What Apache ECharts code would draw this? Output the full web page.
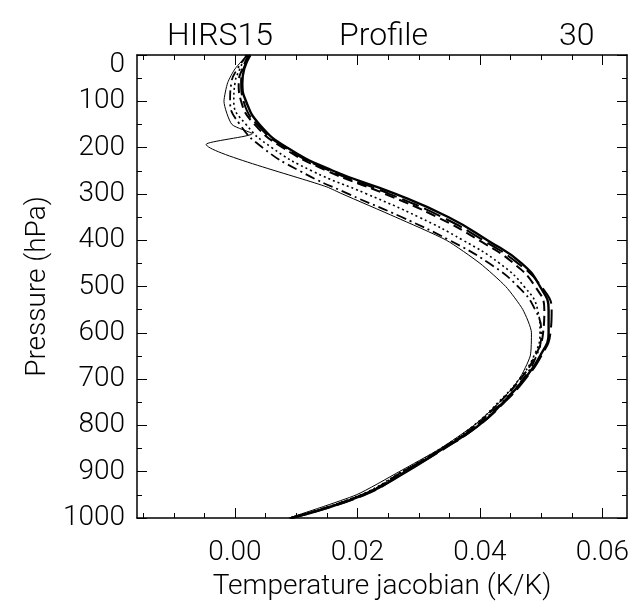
<!DOCTYPE html>
<html>
<head>
<meta charset="utf-8">
<script src="https://cdn.jsdelivr.net/npm/echarts@6/dist/echarts.min.js"></script>
<style>
html,body{margin:0;padding:0;background:#fff;}
#chart{width:637px;height:606px;}
</style>
</head>
<body>
<div id="chart"></div>
<script>
// Pressure levels (hPa)
const pressure = [0, 30, 60, 100, 150, 200, 250, 300, 350, 400, 450, 500, 550, 600, 650, 700, 750, 800, 850, 900, 950, 1000];
// Jacobian profiles (K/K)
const jacA = [0.0025, 0.0015, 0.0012, 0.0018, 0.0040, 0.0085, 0.0160, 0.0262, 0.0348, 0.0412, 0.0468, 0.0498, 0.0512, 0.0512, 0.0498, 0.0472, 0.0438, 0.0398, 0.0340, 0.0280, 0.0210, 0.0092];
const jacC = [0.0022, 0.0012, 0.0006, 0.0010, 0.0032, 0.0078, 0.0150, 0.0245, 0.0330, 0.0398, 0.0455, 0.0490, 0.0505, 0.0503, 0.0490, 0.0466, 0.0432, 0.0393, 0.0338, 0.0274, 0.0208, 0.0090];
const jacD = [0.0018, 0.0008, 0.0000, -0.0002, 0.0018, 0.0060, 0.0125, 0.0215, 0.0300, 0.0372, 0.0432, 0.0472, 0.0494, 0.0498, 0.0488, 0.0464, 0.0430, 0.0390, 0.0336, 0.0272, 0.0205, 0.0089];
const jacE = [0.0020, 0.0004, -0.0006, -0.0008, 0.0008, 0.0045, 0.0105, 0.0185, 0.0272, 0.0350, 0.0415, 0.0462, 0.0490, 0.0500, 0.0492, 0.0470, 0.0436, 0.0394, 0.0338, 0.0274, 0.0207, 0.0090];
const jacF = [0.0024, 0.0014, 0.0010, 0.0014, 0.0036, 0.0082, 0.0155, 0.0252, 0.0338, 0.0405, 0.0462, 0.0500, 0.0517, 0.0515, 0.0500, 0.0474, 0.0440, 0.0398, 0.0342, 0.0278, 0.0212, 0.0091];
// Profile with spike near 190 hPa (own levels)
const pressureB = [0, 30, 60, 100, 150, 170, 193, 285, 300, 350, 400, 450, 500, 550, 600, 650, 700, 750, 800, 850, 900, 950, 1000];
const jacB = [0.0020, 0.0000, -0.0012, -0.0018, -0.0005, 0.0028, -0.0047, 0.0150, 0.0175, 0.0262, 0.0345, 0.0400, 0.0442, 0.0470, 0.0484, 0.0482, 0.0464, 0.0432, 0.0390, 0.0335, 0.0268, 0.0198, 0.0088];

const xMajor = [0, 0.02, 0.04, 0.06];
const xMinor = [-0.015, -0.01, -0.005, 0.005, 0.01, 0.015, 0.025, 0.03, 0.035, 0.045, 0.05, 0.055];

const FONT = 'Roboto, "DejaVu Sans", sans-serif';
const FW = 300;
const pair = (xs, ps) => xs.map((x, i) => [x, ps[i]]);

const chart = echarts.init(document.getElementById('chart'), null, {renderer: 'canvas'});
const black = '#000';
const xBase = {
  type: 'value', min: -0.016, max: 0.064, gridIndex: 0,
  splitLine: {show: false}
};
const tStyle = {fontFamily: FONT, fontSize: 32, fontWeight: FW, color: black};
const option = {
  backgroundColor: '#fff',
  animation: false,
  title: [
    {text: 'HIRS15', left: 162, top: 16, textStyle: tStyle},
    {text: 'Profile', left: 334, top: 16, textStyle: tStyle},
    {text: '30', left: 554, top: 16, textStyle: tStyle}
  ],
  grid: {left: 137, right: 10, top: 55, bottom: 84},
  xAxis: [
    Object.assign({}, xBase, {
      position: 'bottom',
      axisLine: {show: true, onZero: false, lineStyle: {color: black, width: 1.5}},
      axisTick: {show: true, inside: true, length: 10, customValues: xMajor, lineStyle: {color: black}},
      axisLabel: {show: true, customValues: xMajor, margin: 21, fontFamily: FONT, fontSize: 28, fontWeight: FW, color: black,
        formatter: v => v.toFixed(2)},
      name: 'Temperature jacobian (K/K)', nameLocation: 'middle', nameGap: 55,
      nameTextStyle: {fontFamily: FONT, fontSize: 28, fontWeight: FW, color: black}
    }),
    Object.assign({}, xBase, {
      position: 'bottom',
      axisLine: {show: false, onZero: false},
      axisTick: {show: true, inside: true, length: 5, customValues: xMinor, lineStyle: {color: black}},
      axisLabel: {show: false}
    }),
    Object.assign({}, xBase, {
      position: 'top',
      axisLine: {show: true, onZero: false, lineStyle: {color: black, width: 1.5}},
      axisTick: {show: true, inside: true, length: 10, customValues: xMajor, lineStyle: {color: black}},
      axisLabel: {show: false}
    }),
    Object.assign({}, xBase, {
      position: 'top',
      axisLine: {show: false, onZero: false},
      axisTick: {show: true, inside: true, length: 5, customValues: xMinor, lineStyle: {color: black}},
      axisLabel: {show: false}
    })
  ],
  yAxis: [
    {
      type: 'value', min: 0, max: 1000, interval: 100, inverse: true, position: 'left',
      axisLine: {show: true, onZero: false, lineStyle: {color: black, width: 1.5}},
      axisTick: {show: true, inside: true, length: 10, lineStyle: {color: black}},
      minorTick: {show: true, splitNumber: 2, length: 5, lineStyle: {color: black}},
      splitLine: {show: false},
      axisLabel: {margin: 12, fontFamily: FONT, fontSize: 28, fontWeight: FW, color: black,
        formatter: v => v === 0 ? '{z|0}' : String(v),
        rich: {z: {fontFamily: FONT, fontSize: 28, fontWeight: FW, color: black, padding: [20, 0, 0, 0]}}},
      name: 'Pressure (hPa)', nameLocation: 'middle', nameGap: 84, nameRotate: 90,
      nameTextStyle: {fontFamily: FONT, fontSize: 28, fontWeight: FW, color: black}
    },
    {
      type: 'value', min: 0, max: 1000, interval: 100, inverse: true, position: 'right',
      axisLine: {show: true, onZero: false, lineStyle: {color: black, width: 1.5}},
      axisTick: {show: true, inside: true, length: 10, lineStyle: {color: black}},
      minorTick: {show: true, splitNumber: 2, length: 5, lineStyle: {color: black}},
      splitLine: {show: false},
      axisLabel: {show: false}
    }
  ],
  series: [
    {type: 'line', name: 'A', data: pair(jacA, pressure), smooth: 0.5, showSymbol: false,
      lineStyle: {color: black, width: 2.4, type: 'solid'}},
    {type: 'line', name: 'C', data: pair(jacC, pressure), smooth: 0.5, showSymbol: false,
      lineStyle: {color: black, width: 2, type: [10, 5]}},
    {type: 'line', name: 'D', data: pair(jacD, pressure), smooth: 0.5, showSymbol: false,
      lineStyle: {color: black, width: 1.6, type: [2, 3]}},
    {type: 'line', name: 'E', data: pair(jacE, pressure), smooth: 0.5, showSymbol: false,
      lineStyle: {color: black, width: 1.8, type: [10, 4, 2, 4]}},
    {type: 'line', name: 'F', data: pair(jacF, pressure), smooth: 0.5, showSymbol: false,
      lineStyle: {color: black, width: 2, type: [18, 6]}},
    {type: 'line', name: 'B', data: pair(jacB, pressureB), smooth: 0.2, showSymbol: false,
      lineStyle: {color: black, width: 1, type: 'solid'}}
  ]
};
chart.setOption(option);
</script>
</body>
</html>
